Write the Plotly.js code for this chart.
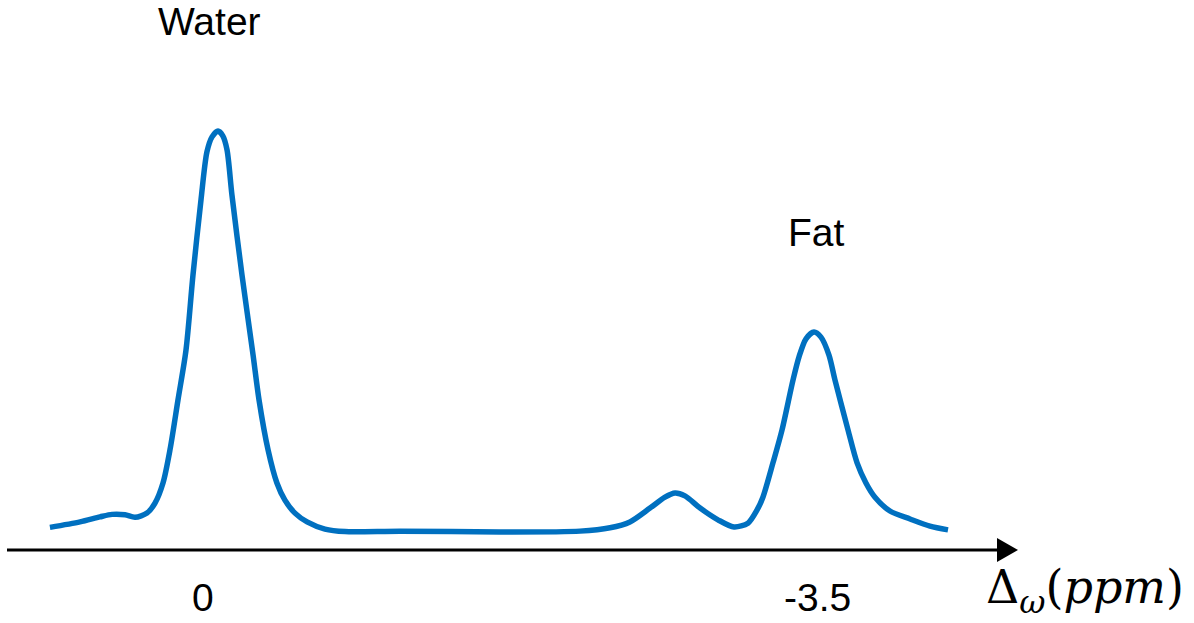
<!DOCTYPE html>
<html>
<head>
<meta charset="utf-8">
<script src="https://cdn.plot.ly/plotly-3.0.1.min.js"></script>
<style>
  html, body { margin: 0; padding: 0; background: #ffffff; }
  #plot { width: 1194px; height: 623px; }
</style>
</head>
<body>
<div id="plot"></div>
<script>
// Chemical shift (ppm) and normalised signal intensity of the water/fat spectrum
const shiftPpm = [
  0.987, 0.810, 0.693, 0.622, 0.546, 0.487, 0.417, 0.370, 0.323, 0.282,
  0.235, 0.188, 0.147, 0.100, 0.065, 0.035, 0.000, -0.029, -0.053, -0.082,
  -0.141, -0.206, -0.241, -0.294, -0.346, -0.393, -0.452, -0.523, -0.628, -0.746,
  -1.069, -1.656, -2.126, -2.302, -2.419, -2.537, -2.625, -2.684, -2.742, -2.831,
  -2.936, -3.030, -3.112, -3.165, -3.200, -3.259, -3.312, -3.377, -3.412, -3.453,
  -3.500, -3.541, -3.588, -3.623, -3.700, -3.753, -3.805, -3.858, -3.946, -4.064,
  -4.181, -4.287
];
const intensity = [
  0.054, 0.067, 0.079, 0.085, 0.084, 0.078, 0.088, 0.112, 0.160, 0.239,
  0.358, 0.477, 0.656, 0.835, 0.950, 0.986, 1.000, 0.988, 0.955, 0.847,
  0.656, 0.465, 0.358, 0.239, 0.160, 0.119, 0.088, 0.067, 0.050, 0.044,
  0.045, 0.043, 0.045, 0.053, 0.067, 0.100, 0.126, 0.136, 0.129, 0.100,
  0.072, 0.055, 0.064, 0.095, 0.126, 0.208, 0.286, 0.406, 0.461, 0.504,
  0.520, 0.508, 0.465, 0.406, 0.286, 0.208, 0.160, 0.126, 0.093, 0.074,
  0.057, 0.048
];

// Peak names and their positions on the shift axis
const peakNames = ["Water", "Fat"];
const peakShift = [0, -3.5];
const peakHeight = [1.0, 0.52];
const tickLabels = ["0", "-3.5"];

const labelFont = { family: "Liberation Sans, Arial, sans-serif", size: 39, color: "#000000" };

const trace = {
  x: shiftPpm,
  y: intensity,
  type: "scatter",
  mode: "lines",
  line: { color: "#0070C0", width: 5.5, shape: "spline", smoothing: 0.8 },
  hoverinfo: "skip"
};

const annotations = [
  { x: peakShift[0], y: peakHeight[0], xref: "x", yref: "y", text: peakNames[0],
    showarrow: false, font: labelFont, xshift: -9, yshift: 110 },
  { x: peakShift[1], y: peakHeight[1], xref: "x", yref: "y", text: peakNames[1],
    showarrow: false, font: labelFont, xshift: 2, yshift: 100 },
  { x: peakShift[0], y: 0, xref: "x", yref: "y", text: tickLabels[0],
    showarrow: false, font: labelFont, xshift: -15, yshift: -48 },
  { x: peakShift[1], y: 0, xref: "x", yref: "y", text: tickLabels[1],
    showarrow: false, font: labelFont, xshift: 3, yshift: -48 },
  { x: 1, y: 0, xref: "paper", yref: "y",
    text: "Δ<sub><i>ω</i></sub>(<i>ppm</i>)",
    showarrow: false, xanchor: "center", yanchor: "middle",
    font: { family: "DejaVu Serif, serif", size: 46, color: "#000000" },
    xshift: 67, yshift: -41 }
];

const shapes = [
  // horizontal shift axis
  { type: "line", xref: "paper", yref: "y", x0: 0, x1: 0.985, y0: 0, y1: 0,
    line: { color: "#000000", width: 3 } },
  // arrowhead at the end of the axis
  { type: "path", xref: "paper", yref: "y",
    xsizemode: "pixel", ysizemode: "pixel", xanchor: 1, yanchor: 0,
    path: "M-21,-12 L0,0 L-21,12 Z",
    fillcolor: "#000000", line: { width: 0 } }
];

const layout = {
  width: 1194,
  height: 623,
  margin: { l: 7, r: 176, t: 10, b: 40 },
  paper_bgcolor: "#ffffff",
  plot_bgcolor: "#ffffff",
  showlegend: false,
  xaxis: { range: [1.2391, -4.698], visible: false, fixedrange: true },
  yaxis: { range: [-0.0788, 1.2888], visible: false, fixedrange: true },
  annotations: annotations,
  shapes: shapes
};

Plotly.newPlot("plot", [trace], layout, { displayModeBar: false, staticPlot: true });
</script>
</body>
</html>
